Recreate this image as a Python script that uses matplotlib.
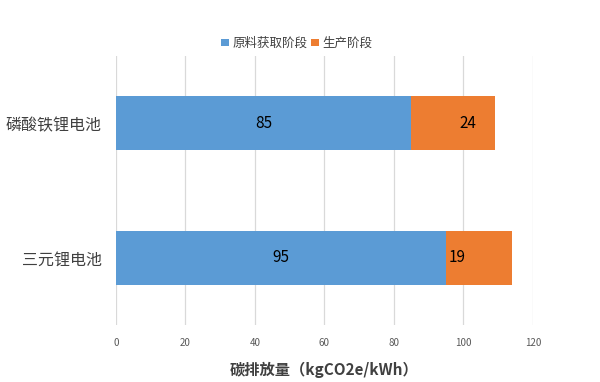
import matplotlib
matplotlib.use("Agg")
import matplotlib.pyplot as plt

plt.rcParams['font.family'] = ['Noto Sans CJK SC', 'DejaVu Sans']

categories = ['三元锂电池', '磷酸铁锂电池']
raw_stage = [95, 85]
prod_stage = [19, 24]
series_names = ['原料获取阶段', '生产阶段']
xticks = [0, 20, 40, 60, 80, 100, 120]

blue = '#5B9BD5'
orange = '#ED7D31'

fig = plt.figure(figsize=(6, 3.82), dpi=100)
ax = fig.add_axes([0.193, 0.149, 0.695, 0.704])

ypos = range(len(categories))
ax.barh(ypos, raw_stage, height=0.4, color=blue, label=series_names[0], zorder=3)
ax.barh(ypos, prod_stage, left=raw_stage, height=0.4, color=orange,
        label=series_names[1], zorder=3)

# data labels
for i in ypos:
    ax.text(raw_stage[i] / 2, i, str(raw_stage[i]), ha='center', va='center',
            fontsize=11, color='black', zorder=4)
label_shift = [3.1, 16.3]
for i in ypos:
    ax.text(raw_stage[i] + label_shift[i], i, str(prod_stage[i]), ha='center',
            va='center', fontsize=11, color='black', zorder=4)

ax.set_xlim(0, 120)
ax.set_ylim(-0.5, 1.5)
ax.set_xticks(xticks)
ax.set_xticklabels([str(t) for t in xticks], fontsize=7, color='#595959')
ax.set_yticks(list(ypos))
ax.set_yticklabels(categories, fontsize=11.5, color='#404040')
ax.tick_params(axis='both', length=0)
ax.tick_params(axis='x', pad=9)
ax.tick_params(axis='y', pad=10)
ax.grid(axis='x', color='#D9D9D9', linewidth=0.9, zorder=0)
for s in ax.spines.values():
    s.set_visible(False)

ax.set_xlabel('碳排放量（kgCO2e/kWh）', fontsize=11, color='#404040',
              fontweight='bold', labelpad=10)

ax.legend(loc='lower center', bbox_to_anchor=(0.434, 1.0), ncol=2, frameon=False,
          fontsize=9, handlelength=0.6, handleheight=0.6, handletextpad=0.3,
          columnspacing=0.3, labelcolor='#404040', borderaxespad=0.1)

fig.savefig('out.png', dpi=100)
